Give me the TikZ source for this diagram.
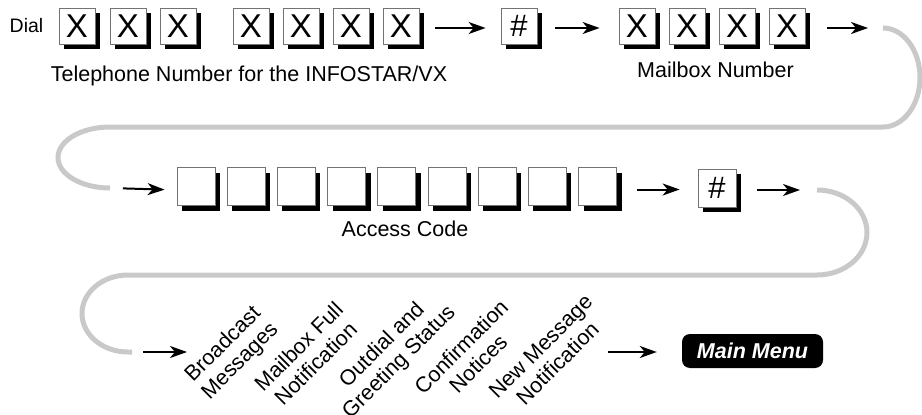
\documentclass[tikz,border=0pt]{standalone}
\usepackage{fontspec}
\setmainfont{Liberation Sans}
\usetikzlibrary{arrows.meta,shadows}

\begin{document}
\begin{tikzpicture}[x=1pt,y=-1pt,
  lbl/.style={font=\fontsize{21.5}{24}\selectfont, inner sep=0pt},
  keybox/.style={draw=black!55, line width=0.8pt, fill=white, inner sep=0pt,
    drop shadow={shadow xshift=5pt, shadow yshift=-5pt, fill=black, opacity=1}},
  digitbox/.style={keybox, minimum width=36pt, minimum height=36pt,
    font=\fontsize{33}{33}\selectfont},
  blankbox/.style={keybox, minimum width=38pt, minimum height=38pt,
    font=\fontsize{31}{31}\selectfont},
  hashfont/.style={font=\fontsize{31}{31}\selectfont},
  arr/.style={line width=2pt, -{Stealth[length=17pt,width=12pt,inset=5pt]}},
  loopline/.style={line width=5pt, draw=black!21},
  diag/.style={lbl, rotate=45, align=center},
  menubox/.style={fill=black, rounded corners=8pt, minimum width=141pt,
    minimum height=34pt, inner sep=0pt, text=white,
    font=\fontsize{21.5}{24}\selectfont\bfseries\itshape}
]
\useasboundingbox (0,0) rectangle (922,415);

% ---- first row: telephone number, #, mailbox number
\node[lbl, font=\fontsize{19.5}{22}\selectfont] (dial) at (26.5,25.5) {Dial};
\foreach \i/\x in {1/77,2/128,3/178,4/251,5/301,6/351,7/401}
  \node[digitbox] (t\i) at (\x,26) {X};
\node[digitbox, hashfont] (h1) at (519,26) {\#};
\foreach \i/\x in {1/637,2/687,3/737,4/787}
  \node[digitbox] (m\i) at (\x,26) {X};
\node[lbl, anchor=base] (tel) at (249,81) {Telephone Number for the INFOSTAR/VX};
\node[lbl, anchor=base] (mbx) at (715.5,77) {Mailbox Number};

\draw[arr, shorten <=16pt, shorten >=15pt] ([yshift=-2pt]t7.east) -- ([yshift=-2pt]h1.west);
\draw[arr, shorten <=18pt, shorten >=19pt] ([yshift=-2pt]h1.east) -- ([yshift=-2pt]m1.west);

% ---- first return loop
\coordinate (c1a) at (883,28);
\coordinate (c1b) at (110,188);
\draw[arr, shorten <=22pt, shorten >=15pt] ([yshift=-2pt]m4.east) -- (c1a);
\draw[loopline] (c1a) arc[start angle=-90, end angle=90, x radius=37, y radius=49.5]
  -- (110,127) arc[start angle=-90, end angle=-270, x radius=52, y radius=30.5] -- (c1b);

% ---- second row: access code and #
\foreach \i in {1,...,9}
  \node[blankbox] (a\i) at ({196+50.2*(\i-1)},186.5) {};
\node[blankbox] (h2) at (717,188) {\#};
\node[lbl, anchor=base] (acc) at (405,236) {Access Code};

\draw[arr, shorten <=13pt, shorten >=12pt] (c1b) -- ([yshift=-2pt]a1.west |- c1b);
\draw[arr, shorten <=20pt, shorten >=18pt] ([yshift=-3pt]a9.east) -- ([yshift=-3pt]a9.east -| h2.west);
\coordinate (c2a) at (817,190);
\coordinate (c2b) at (132,352);
\draw[arr, shorten <=21pt, shorten >=17pt] (h2.east |- c2a) -- (c2a);

% ---- second return loop
\draw[loopline] (c2a) arc[start angle=-90, end angle=90, x radius=50, y radius=42.5]
  -- (128,275) arc[start angle=-90, end angle=-270, x radius=46, y radius=38.5] -- (c2b);

% ---- third row: messages played before the main menu
\node[diag] (bc) at (232,353) {Broadcast\\Messages};
\node[diag] (mf) at (307,355) {Mailbox Full\\Notification};
\node[diag] (og) at (391,354) {Outdial and\\Greeting Status};
\node[diag] (cn) at (469.5,355) {Confirmation\\Notices};
\node[diag] (nm) at (549,355) {New Message\\Notification};
\node[menubox] (mm) at (752.5,351) {Main Menu};

\coordinate (bcin) at (187,352);
\coordinate (nmout) at (608,352);
\draw[arr, shorten <=11pt] (c2b) -- (bcin);
\draw[arr, shorten >=25pt] (nmout) -- (mm.west |- nmout);
\end{tikzpicture}
\end{document}
